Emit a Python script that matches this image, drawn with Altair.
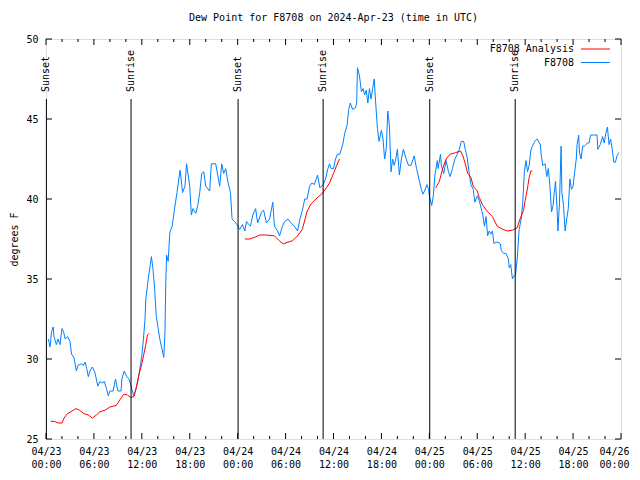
import altair as alt
import pandas as pd

# ---------------- data (hours after 2024-04-23 00:00 UTC, dew point in F) -------------
blue_hours = [0.3, 0.5, 0.7, 0.9, 1.0, 1.3, 1.5, 1.75, 2.0, 2.2, 2.4, 2.7, 3.0, 3.2, 3.5, 3.8,
              4.0, 4.4, 4.7, 4.9, 5.1, 5.3, 5.5, 5.8, 6.1, 6.5, 6.75, 7.0, 7.3, 7.6, 7.8, 8.0,
              8.4, 8.7, 9.0, 9.4, 9.5, 9.8, 10.1, 10.4, 10.6, 10.8, 11.0, 11.2, 11.5, 11.75,
              12.0, 12.2, 12.4, 12.5, 12.8, 13.2, 13.4, 13.6, 13.8, 14.25, 14.75, 14.9, 15.0,
              15.1, 15.3, 15.5, 15.8, 16.1, 16.4, 16.7, 16.8, 17.1, 17.4, 17.6, 17.8, 18.0,
              18.2, 18.4, 18.75, 19.0, 19.25, 19.5, 19.75, 20.0, 20.5, 20.7, 21.25, 21.5,
              21.75, 22.0, 22.25, 22.5, 22.8, 23.1, 23.3, 23.6, 23.9, 24.25, 24.6, 24.9, 25.1,
              25.4, 25.6, 25.9, 26.25, 26.5, 27.0, 27.25, 27.6, 28.0, 28.4, 28.6, 29.0, 29.25,
              29.6, 29.9, 30.3, 30.7, 31.1, 31.5, 31.8, 32.1, 32.4, 32.7, 33.0, 33.3, 33.6,
              34.0, 34.3, 34.7, 35.0, 35.3, 35.5, 35.7, 36.0, 36.25, 36.5, 36.8, 37.2, 37.4,
              37.7, 37.9, 38.1, 38.4, 38.75, 38.9, 39.0, 39.25, 39.5, 39.7, 39.9, 40.1, 40.3,
              40.5, 40.7, 40.9, 41.1, 41.25, 41.5, 41.7, 42.0, 42.2, 42.4, 42.6, 42.8, 43.0,
              43.2, 43.4, 43.6, 43.8, 44.0, 44.25, 44.5, 44.75, 45.1, 45.4, 45.7, 46.1, 46.4,
              46.7, 47.0, 47.2, 47.4, 47.7, 47.9, 48.0, 48.3, 48.5, 48.7, 49.0, 49.1, 49.4,
              49.5, 49.8, 50.1, 50.4, 50.6, 50.9, 51.2, 51.5, 51.75, 52.0, 52.3, 52.5, 52.7,
              53.0, 53.2, 53.5, 53.7, 54.0, 54.25, 54.5, 54.7, 54.9, 55.1, 55.3, 55.5, 55.7,
              55.9, 56.1, 56.3, 56.6, 56.9, 57.0, 57.3, 57.6, 57.9, 58.0, 58.2, 58.4, 58.6,
              58.8, 59.0, 59.25, 59.5, 59.7, 59.9, 60.1, 60.3, 60.5, 60.7, 60.9, 61.2, 61.5,
              61.9, 62.0, 62.2, 62.5, 62.7, 62.9, 63.1, 63.3, 63.5, 63.6, 63.8, 64.0, 64.1,
              64.3, 64.5, 64.6, 64.8, 65.0, 65.2, 65.4, 65.6, 65.8, 66.0, 66.2, 66.4, 66.5,
              66.7, 66.8, 67.0, 67.2, 67.4, 67.8, 68.0, 68.2, 68.6, 69.0, 69.1, 69.4, 69.7,
              69.9, 70.1, 70.3, 70.5, 70.7, 70.9, 71.1, 71.3, 71.5, 71.75]
blue_values = [31.25, 30.75, 31.7, 32.0, 31.4, 30.9, 31.25, 30.9, 31.9, 31.7, 31.25, 31.4, 31.1,
               30.3, 30.1, 29.25, 29.6, 29.7, 29.6, 29.8, 29.4, 28.9, 29.25, 29.5, 29.2, 28.3,
               28.6, 28.5, 28.6, 28.1, 27.7, 28.0, 28.0, 28.75, 28.0, 28.0, 28.75, 29.25, 28.9,
               28.75, 28.4, 28.0, 27.7, 28.0, 28.6, 29.4, 30.2, 31.25, 32.5, 33.75, 35.0, 36.4,
               35.6, 34.4, 32.7, 31.25, 30.1, 31.7, 34.8, 36.5, 36.1, 37.9, 38.3, 39.4, 40.4,
               41.5, 41.8, 40.4, 40.8, 42.2, 41.5, 40.8, 39.0, 39.4, 39.1, 39.6, 40.4, 41.6,
               41.7, 40.8, 40.5, 42.2, 42.2, 41.5, 40.8, 42.2, 41.6, 41.9, 41.0, 40.4, 38.75,
               38.6, 38.4, 38.1, 38.4, 38.0, 38.6, 38.4, 38.3, 39.0, 39.4, 38.5, 39.2, 39.3,
               38.5, 38.75, 39.8, 38.3, 38.0, 37.7, 38.3, 38.6, 38.75, 38.5, 38.3, 38.0, 38.75,
               39.3, 40.0, 40.0, 40.8, 41.0, 40.9, 41.5, 40.7, 40.9, 41.25, 41.9, 42.2, 41.9,
               41.9, 42.5, 42.8, 42.8, 43.5, 44.1, 44.6, 45.6, 46.0, 45.6, 45.7, 46.0, 48.2,
               47.7, 46.7, 46.9, 46.5, 46.8, 46.0, 46.9, 46.25, 46.9, 47.5, 46.25, 44.4, 43.6,
               44.3, 43.75, 42.5, 43.1, 45.5, 44.6, 41.7, 42.5, 42.1, 42.5, 43.1, 41.5, 42.5,
               43.1, 42.5, 42.1, 42.1, 42.7, 41.9, 41.25, 40.6, 40.3, 40.5, 40.9, 40.6, 40.2,
               39.6, 40.2, 41.5, 42.4, 41.9, 42.8, 42.1, 41.6, 42.4, 41.7, 41.4, 41.9, 42.5,
               42.8, 43.1, 43.6, 43.6, 43.1, 42.7, 41.6, 40.9, 40.6, 39.8, 40.2, 39.9, 39.4,
               39.0, 38.3, 38.9, 37.7, 38.0, 37.8, 38.0, 37.2, 37.3, 37.3, 37.2, 36.8, 36.6,
               36.6, 36.25, 35.7, 35.9, 35.0, 35.2, 35.3, 36.25, 38.1, 38.75, 39.8, 41.7, 42.4,
               41.7, 42.1, 43.0, 43.3, 43.6, 43.75, 43.4, 42.8, 42.1, 42.2, 41.4, 41.9, 40.8,
               39.2, 39.6, 40.2, 41.1, 39.3, 38.0, 39.8, 43.3, 40.4, 39.6, 38.0, 38.75, 39.4,
               41.25, 40.6, 40.8, 41.7, 42.5, 43.4, 44.0, 42.9, 42.5, 43.3, 43.3, 43.5, 43.5,
               44.0, 44.0, 44.0, 43.1, 43.4, 43.9, 43.5, 44.1, 44.5, 43.4, 43.75, 43.1, 42.3,
               42.3, 42.7, 42.9]

red_seg1_hours = [0.6, 1.1, 1.5, 2.0, 2.25, 2.7, 3.1, 3.75, 4.2, 4.7, 5.3, 5.8, 6.3, 6.75, 7.4,
                  8.0, 8.8, 9.25, 9.75, 10.2, 10.6, 11.0, 11.3, 11.6, 12.0, 12.25, 12.5, 12.7, 12.9]
red_seg1_values = [26.1, 26.1, 26.0, 26.0, 26.3, 26.6, 26.7, 26.9, 26.8, 26.6, 26.5, 26.3, 26.5,
                   26.7, 26.8, 27.0, 27.1, 27.45, 27.8, 27.75, 27.6, 27.65, 28.2, 28.95, 29.7,
                   30.3, 30.9, 31.5, 31.6]
red_seg2_hours = [24.9, 25.5, 26.1, 26.75, 27.6, 28.6, 29.2, 29.7, 30.3, 30.9, 31.5, 32.1, 32.7,
                  33.2, 33.8, 34.5, 35.1, 35.5, 36.0, 36.4, 36.75]
red_seg2_values = [37.5, 37.5, 37.6, 37.75, 37.75, 37.7, 37.4, 37.2, 37.3, 37.4, 37.7, 38.1,
                   39.25, 39.7, 40.0, 40.3, 40.7, 41.0, 41.6, 42.1, 42.5]
red_seg3_hours = [48.8, 49.25, 49.7, 50.1, 50.6, 51.3, 51.9, 52.2, 52.5, 52.8, 53.2, 53.5, 54.0,
                  54.25, 54.7, 55.3, 55.9, 56.5, 57.2, 57.8, 58.4, 59.0, 59.4, 59.8, 60.0, 60.3,
                  60.5, 60.7, 60.9]
red_seg3_values = [40.7, 41.1, 41.95, 42.5, 42.8, 42.9, 43.0, 42.7, 42.2, 41.6, 41.35, 40.8, 40.5,
                   40.1, 39.6, 39.2, 38.9, 38.3, 38.1, 38.0, 38.05, 38.2, 38.8, 39.3, 39.9, 40.7,
                   41.35, 41.75, 41.75]

sun_hours = [0.05, 10.65, 24.05, 34.7, 48.05, 58.75]
sun_labels = ["Sunset", "Sunrise", "Sunset", "Sunrise", "Sunset", "Sunrise"]

x_major_ticks = [0, 6, 12, 18, 24, 30, 36, 42, 48, 54, 60, 66, 72]
x_minor_ticks = [2, 4, 8, 10, 14, 16, 20, 22, 26, 28, 32, 34, 38, 40, 44, 46, 50, 52, 56, 58,
                 62, 64, 68, 70]
y_major_ticks = [25, 30, 35, 40, 45, 50]

series_names = ["F8708 Analysis", "F8708"]
series_colors = ["#ff0000", "#0080ff"]

# ---------------- frames ---------------------------------------------------------------
df_blue = pd.DataFrame({"h": blue_hours, "v": blue_values})
df_red = pd.concat([
    pd.DataFrame({"h": red_seg1_hours, "v": red_seg1_values, "seg": 1}),
    pd.DataFrame({"h": red_seg2_hours, "v": red_seg2_values, "seg": 2}),
    pd.DataFrame({"h": red_seg3_hours, "v": red_seg3_values, "seg": 3}),
])
df_sun = pd.DataFrame({"h": sun_hours, "label": sun_labels})
df_xmaj = pd.DataFrame({"h": x_major_ticks})
df_xmin = pd.DataFrame({"h": x_minor_ticks})
df_ymaj = pd.DataFrame({"v": y_major_ticks})

W, H = 575, 400
FONT = "DejaVu Sans Mono"

xscale = alt.Scale(domain=[0, 72], nice=False, zero=False)
yscale = alt.Scale(domain=[25, 50], nice=False, zero=False)

label_expr = ("['04/' + (23 + floor(datum.value / 24)), "
              "((datum.value % 24) < 10 ? '0' : '') + (datum.value % 24) + ':00']")

xaxis = alt.Axis(values=x_major_ticks, labelExpr=label_expr, ticks=False, domain=False,
                 grid=False, labelFont=FONT, labelFontSize=10, labelPadding=7,
                 labelLineHeight=13, labelColor="black", labelOverlap=False,
                 labelFlush=False, title=None,
                 labelOffset={"expr": "datum.value == 72 ? -7 : 0"})
yaxis = alt.Axis(values=y_major_ticks, ticks=False, domain=False, grid=False,
                 labelFont=FONT, labelFontSize=10, labelPadding=8, labelColor="black",
                 title="degrees F", titleFont=FONT, titleFontSize=10, titleFontWeight="normal",
                 titleColor="black", titlePadding=6)

X = alt.X("h:Q", scale=xscale, axis=xaxis)
Y = alt.Y("v:Q", scale=yscale, axis=yaxis)

blue = alt.Chart(df_blue).mark_line(color=series_colors[1], strokeWidth=1).encode(x=X, y=Y)
red = alt.Chart(df_red).mark_line(color=series_colors[0], strokeWidth=1).encode(
    x=X, y=Y, detail="seg:N")

sun_rule = alt.Chart(df_sun).mark_rule(color="black", strokeWidth=1).encode(
    x=X, y=alt.value(60), y2=alt.value(H))
sun_text = alt.Chart(df_sun).mark_text(angle=270, align="left", baseline="middle",
                                       font=FONT, fontSize=10, color="black").encode(
    x=X, y=alt.value(53), text="label:N")

def xticks(df, length):
    bottom = alt.Chart(df).mark_rule(color="black", strokeWidth=1).encode(
        x=X, y=alt.value(H), y2=alt.value(H - length))
    top = alt.Chart(df).mark_rule(color="black", strokeWidth=1).encode(
        x=X, y=alt.value(0), y2=alt.value(length))
    return [bottom, top]

yt_left = alt.Chart(df_ymaj).mark_rule(color="black", strokeWidth=1).encode(
    y=Y, x=alt.value(0), x2=alt.value(6))
yt_right = alt.Chart(df_ymaj).mark_rule(color="black", strokeWidth=1).encode(
    y=Y, x=alt.value(W), x2=alt.value(W - 6))

legend_layers = []
for i, (name, col) in enumerate(zip(series_names, series_colors)):
    ldf = pd.DataFrame({"name": [name]})
    yy = 10 + 13.5 * i
    legend_layers.append(alt.Chart(ldf).mark_text(align="right", baseline="middle", font=FONT,
                                                  fontSize=10, color="black").encode(
        x=alt.value(528), y=alt.value(yy), text="name:N"))
    legend_layers.append(alt.Chart(ldf).mark_rule(color=col, strokeWidth=1).encode(
        x=alt.value(535), x2=alt.value(564), y=alt.value(yy)))

chart = alt.layer(
    blue, red, sun_rule, sun_text, *xticks(df_xmaj, 6), *xticks(df_xmin, 3),
    yt_left, yt_right, *legend_layers,
).properties(
    width=W, height=H,
    title=alt.TitleParams("Dew Point for F8708 on 2024-Apr-23 (time in UTC)", font=FONT,
                          fontSize=10, fontWeight="normal", color="black", anchor="middle",
                          baseline="bottom", offset=1),
    autosize=alt.AutoSizeParams(type="none"),
    padding={"left": 38, "top": 31, "right": 11, "bottom": 29},
).configure_view(stroke="black", strokeWidth=1).configure(background="white")

chart.save("out.html", embed_options={"renderer": "svg", "actions": False})
